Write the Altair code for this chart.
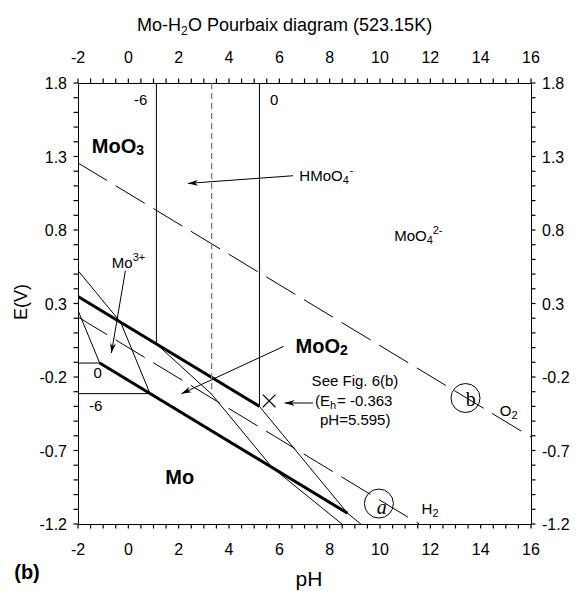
import math
import altair as alt
import pandas as pd

# ---------------- frame ----------------
PH_DOMAIN = [-2, 16]
E_DOMAIN = [-1.2, 1.8]
PLOT_W, PLOT_H = 453, 441
PX_PER_PH = PLOT_W / (PH_DOMAIN[1] - PH_DOMAIN[0])
PX_PER_V = PLOT_H / (E_DOMAIN[1] - E_DOMAIN[0])
FONT = "Liberation Sans"
TICK = 4.5

# ---------------- axis ticks and labels ----------------
ph_major_ticks = [-2, 0, 2, 4, 6, 8, 10, 12, 14, 16]
ph_minor_ticks = [v / 2 for v in range(-4, 33)]
e_major_ticks = [-1.2, -0.7, -0.2, 0.3, 0.8, 1.3, 1.8]
e_minor_ticks = [round(-1.2 + 0.1 * i, 1) for i in range(31)]
ph_tick_labels = [str(v) for v in ph_major_ticks]
e_tick_labels = [f"{v:.1f}" for v in e_major_ticks]

# ---------------- boundary lines (pH, E) ----------------
moo3_moo2_ph = [-2.0, 5.21]
moo3_moo2_e = [0.348, -0.400]
mo_moo2_ph = [-1.138, 8.712]
mo_moo2_e = [-0.105, -1.127]
vert_m6_ph = [1.115, 1.115]
vert_m6_e = [1.8, 0.025]
vert_0_ph = [5.21, 5.21]
vert_0_e = [1.8, -0.400]
mo3_mo_0_ph = [-2.0, -1.138]
mo3_mo_0_e = [-0.105, -0.105]
mo3_moo2_0_ph = [-2.0, -1.138]
mo3_moo2_0_e = [0.253, -0.105]
mo3_mo_m6_ph = [-2.0, 0.862]
mo3_mo_m6_e = [-0.313, -0.313]
mo3_ox_m6_ph = [-2.0, -0.305, 0.862]
mo3_ox_m6_e = [0.524, 0.172, -0.313]
moo4_m6_ph = [1.115, 3.31, 5.716, 8.488]
moo4_m6_e = [0.025, -0.317, -0.816, -1.2]
moo4_0_ph = [5.21, 8.712, 9.237]
moo4_0_e = [-0.400, -1.127, -1.2]
h2_ph = [-2.0, 11.56]
h2_e = [0.208, -1.2]
o2_ph = [-2.0, 16.0]
o2_e = [1.256, -0.608]
pka_ph = [3.31, 3.31]
pka_e = [1.8, -0.317]

line_defs = [
    ("moo3_moo2", "thick", moo3_moo2_ph, moo3_moo2_e),
    ("mo_moo2", "thick", mo_moo2_ph, mo_moo2_e),
    ("vert_m6", "thin", vert_m6_ph, vert_m6_e),
    ("vert_0", "thin", vert_0_ph, vert_0_e),
    ("mo3_mo_0", "thin", mo3_mo_0_ph, mo3_mo_0_e),
    ("mo3_moo2_0", "thin", mo3_moo2_0_ph, mo3_moo2_0_e),
    ("mo3_mo_m6", "thin", mo3_mo_m6_ph, mo3_mo_m6_e),
    ("mo3_ox_m6", "thin", mo3_ox_m6_ph, mo3_ox_m6_e),
    ("moo4_m6", "thin", moo4_m6_ph, moo4_m6_e),
    ("moo4_0", "thin", moo4_0_ph, moo4_0_e),
    ("h2", "dash", h2_ph, h2_e),
    ("o2", "dash", o2_ph, o2_e),
    ("pka", "grey", pka_ph, pka_e),
]
rows = []
for name, style, phs, es in line_defs:
    for i, (p, e) in enumerate(zip(phs, es)):
        rows.append({"line": name, "style": style, "i": i, "pH": p, "E": e})
lines_df = pd.DataFrame(rows)

# ---------------- arrows ----------------
arrow_tail_ph = [6.54, -0.117, 6.17, 7.34]
arrow_tail_e = [1.169, 0.523, 0.008, -0.377]
arrow_tip_ph = [2.37, -0.673, 2.108, 6.212]
arrow_tip_e = [1.117, -0.037, -0.314, -0.377]
arrows_df = pd.DataFrame({
    "pH": arrow_tail_ph, "E": arrow_tail_e,
    "pH2": arrow_tip_ph, "E2": arrow_tip_e,
})
arrows_df["ang"] = [
    math.degrees(math.atan2(-(e2 - e1) * PX_PER_V, (p2 - p1) * PX_PER_PH)) % 360
    for p1, e1, p2, e2 in zip(arrow_tail_ph, arrow_tail_e, arrow_tip_ph, arrow_tip_e)
]
heads_df = arrows_df.rename(columns={"pH": "tpH", "E": "tE"}).rename(columns={"pH2": "pH", "E2": "E"})

circle_ph = [9.956, 13.397]
circle_e = [-1.061, -0.343]
circles_df = pd.DataFrame({"pH": circle_ph, "E": circle_e})
cross_ph = [5.595]
cross_e = [-0.363]
cross_df = pd.DataFrame({"pH": cross_ph, "E": cross_e})

# ---------------- in-plot text pieces ----------------
text_pieces = [
    ("MoO", 0.313, 1.326, "bold_r"), ("3", 0.313, 1.326, "bold_sub"),
    ("MoO", 8.411, -0.035, "bold_r"), ("2", 8.411, -0.035, "bold_sub"),
    ("Mo", 2.041, -0.926, "bold_c"),
    ("HMoO", 8.518, 1.135, "r"), ("4", 8.518, 1.135, "sub"), ("-", 8.796, 1.135, "sup"),
    ("MoO", 11.855, 0.727, "r"), ("4", 11.855, 0.727, "sub"), ("2-", 12.093, 0.727, "sup"),
    ("Mo", 0.173, 0.544, "r"), ("3+", 0.173, 0.544, "sup"),
    ("O", 15.221, -0.468, "r"), ("2", 15.221, -0.468, "sub"),
    ("H", 12.082, -1.13, "r"), ("2", 12.082, -1.13, "sub"),
    ("See Fig. 6(b)", 9.006, -0.259, "c"),
    ("(E", 8.013, -0.400, "r"), ("h", 8.013, -0.400, "sub"), ("= -0.363", 8.291, -0.400, "l"),
    ("pH=5.595)", 9.014, -0.525, "c"),
    ("-6", 0.495, 1.652, "c"), ("0", 5.796, 1.652, "c"),
    ("0", -1.217, -0.205, "c"), ("-6", -1.297, -0.434, "c"),
    ("a", 10.067, -1.089, "serif_i"), ("b", 13.604, -0.357, "serif"),
]
texts_df = pd.DataFrame(text_pieces, columns=["t", "pH", "E", "style"])

text_styles = {
    "bold_r": dict(fontSize=20, fontWeight="bold", align="right"),
    "bold_sub": dict(fontSize=14, fontWeight="bold", align="left", dy=2),
    "bold_c": dict(fontSize=20, fontWeight="bold", align="center"),
    "r": dict(fontSize=15, align="right"),
    "l": dict(fontSize=15, align="left"),
    "c": dict(fontSize=15, align="center"),
    "sub": dict(fontSize=11, align="left", dy=3),
    "sup": dict(fontSize=11, align="left", dy=-7),
    "serif_i": dict(fontSize=20, font="Liberation Serif", fontStyle="italic",
                    align="center", baseline="middle"),
    "serif": dict(fontSize=20, font="Liberation Serif",
                  align="center", baseline="middle"),
}

# ---------------- scales ----------------
xs = alt.Scale(domain=PH_DOMAIN, nice=False, zero=False)
ys = alt.Scale(domain=E_DOMAIN, nice=False, zero=False)


def X(field="pH"):
    return alt.X(f"{field}:Q", scale=xs, axis=None)


def Y(field="E"):
    return alt.Y(f"{field}:Q", scale=ys, axis=None)


base_lines = alt.Chart(lines_df)
thin = base_lines.transform_filter(alt.datum.style == "thin").mark_line(
    color="black", strokeWidth=1, clip=True
).encode(x=X(), y=Y(), detail="line:N", order="i:Q")
thick = base_lines.transform_filter(alt.datum.style == "thick").mark_line(
    color="black", strokeWidth=3, clip=True
).encode(x=X(), y=Y(), detail="line:N", order="i:Q")
dashed = base_lines.transform_filter(alt.datum.style == "dash").mark_line(
    color="black", strokeWidth=1, strokeDash=[34, 10], clip=True
).encode(x=X(), y=Y(), detail="line:N", order="i:Q")
grey = base_lines.transform_filter(alt.datum.style == "grey").mark_line(
    color="#7a7a7a", strokeWidth=1.3, strokeDash=[6, 4], clip=True
).encode(x=X(), y=Y(), detail="line:N", order="i:Q")

# ---------------- ticks and tick labels on all four sides ----------------
ph_ticks_df = pd.DataFrame({"v": ph_minor_ticks})
e_ticks_df = pd.DataFrame({"v": e_minor_ticks})
ph_lab_df = pd.DataFrame({"v": ph_major_ticks, "lab": ph_tick_labels})
e_lab_df = pd.DataFrame({"v": e_major_ticks, "lab": e_tick_labels})
tick_rule = dict(color="black", strokeWidth=1.2, opacity=1)
ticks_bottom = alt.Chart(ph_ticks_df).mark_rule(**tick_rule).encode(
    x=X("v"), y=alt.value(PLOT_H), y2=alt.value(PLOT_H + TICK))
ticks_top = alt.Chart(ph_ticks_df).mark_rule(**tick_rule).encode(
    x=X("v"), y=alt.value(-TICK), y2=alt.value(0))
ticks_left = alt.Chart(e_ticks_df).mark_rule(**tick_rule).encode(
    y=Y("v"), x=alt.value(-TICK), x2=alt.value(0))
ticks_right = alt.Chart(e_ticks_df).mark_rule(**tick_rule).encode(
    y=Y("v"), x=alt.value(PLOT_W), x2=alt.value(PLOT_W + TICK))

lab_style = dict(font=FONT, fontSize=16, color="black", baseline="alphabetic")
labels_bottom = alt.Chart(ph_lab_df).mark_text(align="center", **lab_style).encode(
    x=X("v"), y=alt.value(PLOT_H + 31), text="lab:N")
labels_top = alt.Chart(ph_lab_df).mark_text(align="center", **lab_style).encode(
    x=X("v"), y=alt.value(-20), text="lab:N")
labels_left = alt.Chart(e_lab_df).mark_text(align="right", dy=6, **lab_style).encode(
    y=Y("v"), x=alt.value(-11), text="lab:N")
labels_right = alt.Chart(e_lab_df).mark_text(align="left", dy=6, **lab_style).encode(
    y=Y("v"), x=alt.value(PLOT_W + 11), text="lab:N")

# ---------------- arrows, circles, marker ----------------
shafts = alt.Chart(arrows_df).mark_rule(color="black", strokeWidth=1).encode(
    x=X(), y=Y(), x2="pH2:Q", y2="E2:Q"
)
heads = alt.Chart(heads_df).mark_point(
    shape="M0,0L-2,-0.6L-1.4,0L-2,0.6Z", filled=True, color="black", size=100, opacity=1
).encode(x=X(), y=Y(), angle=alt.Angle("ang:Q", scale=None))
circles = alt.Chart(circles_df).mark_point(
    shape="circle", filled=False, color="black", size=841, strokeWidth=1, opacity=1
).encode(x=X(), y=Y())
cross = alt.Chart(cross_df).mark_point(
    shape="M-1,-1L1,1M-1,1L1,-1", filled=False, color="black", size=160,
    strokeWidth=1.2, opacity=1
).encode(x=X(), y=Y())

text_layers = []
for style, props in text_styles.items():
    p = dict(font=FONT, baseline="alphabetic", color="black")
    p.update(props)
    text_layers.append(
        alt.Chart(texts_df).transform_filter(alt.datum.style == style)
        .mark_text(**p).encode(x=X(), y=Y(), text="t:N")
    )

# ---------------- outside texts (title, axis titles, panel tag) ----------------
outside = [
    ("Mo-H", 103, -52, dict(fontSize=18, align="right")),
    ("2", 103, -52, dict(fontSize=12, align="left", dy=4)),
    ("O Pourbaix diagram (523.15K)", 110, -52, dict(fontSize=18, align="left")),
    ("pH", 231, 503, dict(fontSize=21, align="center")),
    ("(b)", -51, 496, dict(fontSize=20, fontWeight="bold", align="center")),
    ("E(V)", -56, 219, dict(fontSize=18, align="center", baseline="middle", angle=270)),
]
outside_layers = []
for txt, px, py, props in outside:
    p = dict(font=FONT, baseline="alphabetic", color="black")
    p.update(props)
    outside_layers.append(
        alt.Chart(pd.DataFrame({"t": [txt]})).mark_text(**p).encode(
            x=alt.value(px), y=alt.value(py), text="t:N"
        )
    )

chart = alt.layer(
    thin, thick, dashed, grey,
    ticks_bottom, ticks_top, ticks_left, ticks_right,
    labels_bottom, labels_top, labels_left, labels_right,
    shafts, heads, circles, cross, *text_layers, *outside_layers
).properties(
    width=PLOT_W, height=PLOT_H,
    padding={"left": 70, "top": 75, "right": 41, "bottom": 66},
    autosize=alt.AutoSizeParams(type="none"),
    background="white",
).configure_view(stroke="black", strokeWidth=1)

chart.save("out.html", embed_options={"renderer": "svg", "actions": False})
